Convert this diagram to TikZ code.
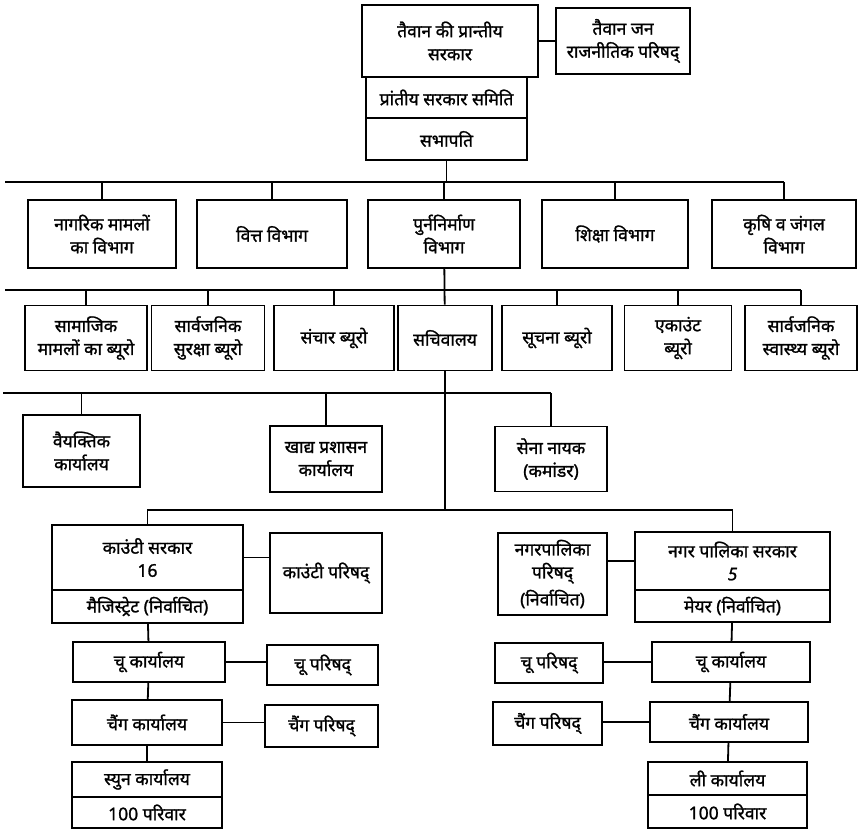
\documentclass[tikz,border=0pt]{standalone}
\usepackage{fontspec}
\newfontfamily\hindi[Script=Devanagari, FakeBold=1.2]{Noto Sans}
\usetikzlibrary{arrows}
\tikzset{
  >=latex,
  office/.style = {draw, line width=1.8pt, rectangle, align=center,
                   inner sep=1pt, font=\hindi\fontsize{17.5}{23}\selectfont},
  unit/.style 2 args = {office, minimum width=#1, minimum height=#2},
  link/.style = {line width=1.8pt},
}

\begin{document}
\begin{tikzpicture}[x=1pt, y=-1pt]
\useasboundingbox (0,0) rectangle (860,830);
% provincial level
\node[unit={176}{72}] (prov) at (450,41) {तैवान की प्रान्तीय\\सरकार};
\node[unit={134}{66}] (janp) at (623,41) {तैवान जन\\राजनीतिक परिषद्};
\node[unit={161}{41}] (samiti) at (446.5,97.5) {प्रांतीय सरकार समिति};
\node[unit={161}{42}] (sabha) at (446.5,139) {सभापति};
\draw[link] (prov) -- (janp);
% departments
\node[unit={148}{68}] (civ) at (102,234) {नागरिक मामलों\\का विभाग};
\node[unit={150}{68}] (fin) at (272,234) {वित्त विभाग};
\node[unit={152}{68}] (rec) at (444,234) {पुर्ननिर्माण\\विभाग};
\node[unit={146}{68}] (edu) at (615,234) {शिक्षा विभाग};
\node[unit={144}{68}] (agr) at (784,234) {कृषि व जंगल\\विभाग};
\coordinate (bus1w) at (5,182);
\draw[link] (sabha) -- (sabha |- bus1w);
\draw[link] (bus1w) -- (agr.north |- bus1w);
\foreach \n in {civ,fin,rec,edu,agr}
  \draw[link] (\n.north) -- (\n.north |- bus1w);
% bureaus
\node[unit={122}{65}] (soc) at (86,338) {सामाजिक\\मामलों का ब्यूरो};
\node[unit={113}{65}] (pol) at (208,338) {सार्वजनिक\\सुरक्षा ब्यूरो};
\node[unit={120}{65}] (com) at (334,338) {संचार ब्यूरो};
\node[unit={94}{65}] (sec) at (445,338) {सचिवालय};
\node[unit={110}{65}] (inf) at (557,338) {सूचना ब्यूरो};
\node[unit={107}{65}] (acc) at (678,338) {एकाउंट\\ब्यूरो};
\node[unit={112}{65}] (hea) at (801,338) {सार्वजनिक\\स्वास्थ्य ब्यूरो};
\coordinate (bus2w) at (5,290);
\draw[link] (bus2w) -- (hea.north |- bus2w);
\draw[link] (rec) -- (sec);
\foreach \n in {soc,pol,com,inf,acc,hea}
  \draw[link] (\n.north) -- (\n.north |- bus2w);
% offices
\node[unit={117}{72}] (pers) at (81.5,451) {वैयक्तिक\\कार्यालय};
\node[unit={112}{66}] (food) at (326,459) {खाद्य प्रशासन\\कार्यालय};
\node[unit={112}{65}] (army) at (551,459) {सेना नायक\\(कमांडर)};
\coordinate (bus3w) at (3,393);
\draw[link] (bus3w) -- (army.north |- bus3w);
\foreach \n in {pers,food,army}
  \draw[link] (\n.north) -- (\n.north |- bus3w);
% county and municipality
\node[unit={191}{65}] (cgov) at (147.5,557.5) {काउंटी सरकार\\16};
\node[unit={191}{33}] (mag) at (147.5,606.5) {मैजिस्ट्रेट (निर्वाचित)};
\node[unit={112}{80}] (ccoun) at (326,573) {काउंटी परिषद्};
\node[unit={109}{82}] (mcoun) at (552.5,574) {नगरपालिका\\परिषद्\\[4pt](निर्वाचित)};
\node[unit={195}{58}] (mgov) at (732.5,561) {नगर पालिका सरकार\\{\itshape 5}};
\node[unit={195}{32}] (mayor) at (732.5,606) {मेयर (निर्वाचित)};
\coordinate (bus4) at (445,510);
\draw[link] (sec) -- (bus4);
\draw[link] (cgov.north) |- (bus4) -| (mgov.north);
\draw[link] (cgov.east) -- (cgov.east -| ccoun.west);
\draw[link] (mgov.west) -- (mgov.west -| mcoun.east);
% county chain
\node[unit={152}{40}] (chuL) at (149,662) {चू कार्यालय};
\node[unit={111}{40}] (chuLc) at (322.5,665) {चू परिषद्};
\node[unit={150}{45}] (chengL) at (147,722.5) {चैंग कार्यालय};
\node[unit={113}{42}] (chengLc) at (321.5,726) {चैंग परिषद्};
\node[unit={150}{35}] (hsun) at (147,779.5) {स्युन कार्यालय};
\node[unit={150}{31}] (hsunF) at (147,812.5) {100 परिवार};
\draw[link] (mag) -- (chuL);
\draw[link] (chuL) -- (chengL);
\draw[link] (chengL) -- (hsun);
\draw[link] (chuL.east) -- (chuL.east -| chuLc.west);
\draw[link] (chengL.east) -- (chengL.east -| chengLc.west);
% municipal chain
\node[unit={108}{40}] (chuRc) at (549,663) {चू परिषद्};
\node[unit={158}{40}] (chuR) at (731,662) {चू कार्यालय};
\node[unit={109}{43}] (chengRc) at (547.5,723.5) {चैंग परिषद्};
\node[unit={158}{40}] (chengR) at (729,722) {चैंग कार्यालय};
\node[unit={159}{33}] (li) at (727.5,778.5) {ली कार्यालय};
\node[unit={159}{33}] (liF) at (727.5,811.5) {100 परिवार};
\draw[link] (mayor) -- (chuR);
\draw[link] (chuR) -- (chengR);
\draw[link] (chengR) -- (li);
\draw[link] (chuR.west) -- (chuR.west -| chuRc.east);
\draw[link] (chengR.west) -- (chengR.west -| chengRc.east);
\end{tikzpicture}
\end{document}
